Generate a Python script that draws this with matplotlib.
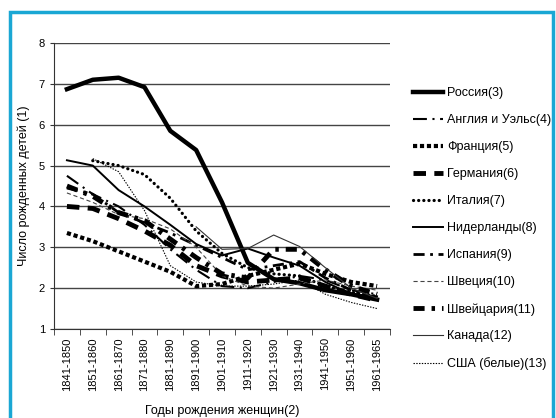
import numpy as np
import matplotlib
matplotlib.use('Agg')
import matplotlib.pyplot as plt
from matplotlib.patches import Rectangle

plt.rcParams['font.family'] = ['Liberation Sans', 'DejaVu Sans']
plt.rcParams['lines.scale_dashes'] = False

nan = np.nan
periods = ['1841-1850', '1851-1860', '1861-1870', '1871-1880', '1881-1890',
           '1891-1900', '1901-1910', '1911-1920', '1921-1930', '1931-1940',
           '1941-1950', '1951-1960', '1961-1965']

russia = [6.87, 7.10, 7.15, 6.92, 5.85, 5.38, 4.10, 2.62, 2.22, 2.12, 1.95, 1.85, 1.72]
england = [4.75, 4.30, 4.00, 3.55, 2.95, 2.45, 2.05, 2.00, 2.15, 2.30, 2.20, 1.95, 1.85]
france = [3.35, 3.15, 2.90, 2.65, 2.40, 2.05, 2.10, 2.30, 2.45, 2.60, 2.35, 2.15, 2.05]
germany = [4.00, 3.95, 3.70, 3.40, 3.05, 2.55, 2.30, 2.15, 2.20, 2.25, 2.05, 1.85, 1.70]
italy = [nan, 5.12, 5.00, 4.78, 4.20, 3.40, 2.85, 2.50, 2.35, 2.30, 2.05, 1.90, 1.80]
netherlands = [5.13, 5.00, 4.40, 4.00, 3.55, 3.08, 2.80, 2.97, 2.75, 2.55, 2.15, 1.85, 1.80]
spain = [4.45, 4.30, 3.85, 3.60, 3.35, 3.05, 2.75, 2.45, 2.55, 2.65, 2.25, 1.95, 1.75]
sweden = [4.33, 4.10, 3.80, 3.70, 3.45, 3.00, 2.30, 2.05, 2.00, 2.10, 2.20, 2.05, 1.95]
switzerland = [4.50, 4.25, 3.85, 3.65, 3.20, 2.75, 2.35, 2.25, 2.95, 2.95, 2.45, 2.05, 1.85]
canada = [nan, nan, nan, nan, nan, 3.50, 2.95, 2.97, 3.30, 3.02, 2.50, 2.00, 1.75]
usa = [nan, 5.17, 4.85, 3.90, 2.55, 2.15, 2.05, 2.05, 2.10, 2.20, 1.85, 1.65, 1.50]

x = np.arange(len(periods))

fig = plt.figure(figsize=(5.56, 4.18), dpi=100)
ax = fig.add_axes([54/556, 1-329/418, (390-54)/556, (329-43)/418])

# name, data, linewidth, dashes, color, capstyle
series = [
    ('Россия(3)', russia, 3.2, None, 'black', 'butt'),
    ('Англия и Уэльс(4)', england, 1.5, (10, 4, 1.5, 4), 'black', 'butt'),
    ('Франция(5)', france, 3.0, (3, 2), 'black', 'butt'),
    ('Германия(6)', germany, 3.5, (9, 6), 'black', 'butt'),
    ('Италия(7)', italy, 2.3, (0.1, 3.6), 'black', 'round'),
    ('Нидерланды(8)', netherlands, 1.4, None, 'black', 'butt'),
    ('Испания(9)', spain, 2.0, (8, 4, 2, 4), 'black', 'butt'),
    ('Швеция(10)', sweden, 0.8, (3, 2), '#444444', 'butt'),
    ('Швейцария(11)', switzerland, 3.5, (8, 5, 2.5, 5), 'black', 'butt'),
    ('Канада(12)', canada, 0.8, None, '#333333', 'butt'),
    ('США (белые)(13)', usa, 0.8, (1, 1), 'black', 'butt'),
]

for name, vals, lw, dash, col, cap in series:
    line, = ax.plot(x, vals, color=col, lw=lw, label=name,
                    solid_joinstyle='round')
    if dash is not None:
        line.set_dashes(dash)
        line.set_dash_capstyle(cap)

ax.set_ylim(1, 8)
ax.set_xlim(-0.5, len(periods) - 0.5)
ax.set_yticks(range(1, 9))
ax.yaxis.grid(True, color='#444444', lw=1)
ax.set_axisbelow(True)
for s in ['top', 'right']:
    ax.spines[s].set_visible(False)
ax.spines['left'].set_color('#333333')
ax.spines['bottom'].set_color('#333333')

ax.set_xticks(x)
ax.set_xticklabels(periods, rotation=90, fontsize=8)
ax.set_xticks(np.arange(-0.5, len(periods)), minor=True)
ax.tick_params(axis='x', which='major', length=0, pad=6)
ax.tick_params(axis='x', which='minor', length=4, color='#333333')
ax.tick_params(axis='y', labelsize=8, length=3, color='#333333')

ax.set_ylabel('Число рожденных детей (1)', fontsize=9, labelpad=6)
ax.set_xlabel('Годы рождения женщин(2)', fontsize=9, labelpad=10)

fig.legend(loc='upper left', bbox_to_anchor=(408/556, 1-82/418),
           frameon=False, fontsize=9, handlelength=2.4, handletextpad=0.3,
           labelspacing=1.2, borderaxespad=0)

fig.patches.append(Rectangle((10/556, -0.05), (553-10)/556, (418-12)/418 + 0.05,
                             transform=fig.transFigure, fill=False,
                             edgecolor='#1aa7d4', lw=2.5, clip_on=False))

fig.savefig('out.png', dpi=100)
